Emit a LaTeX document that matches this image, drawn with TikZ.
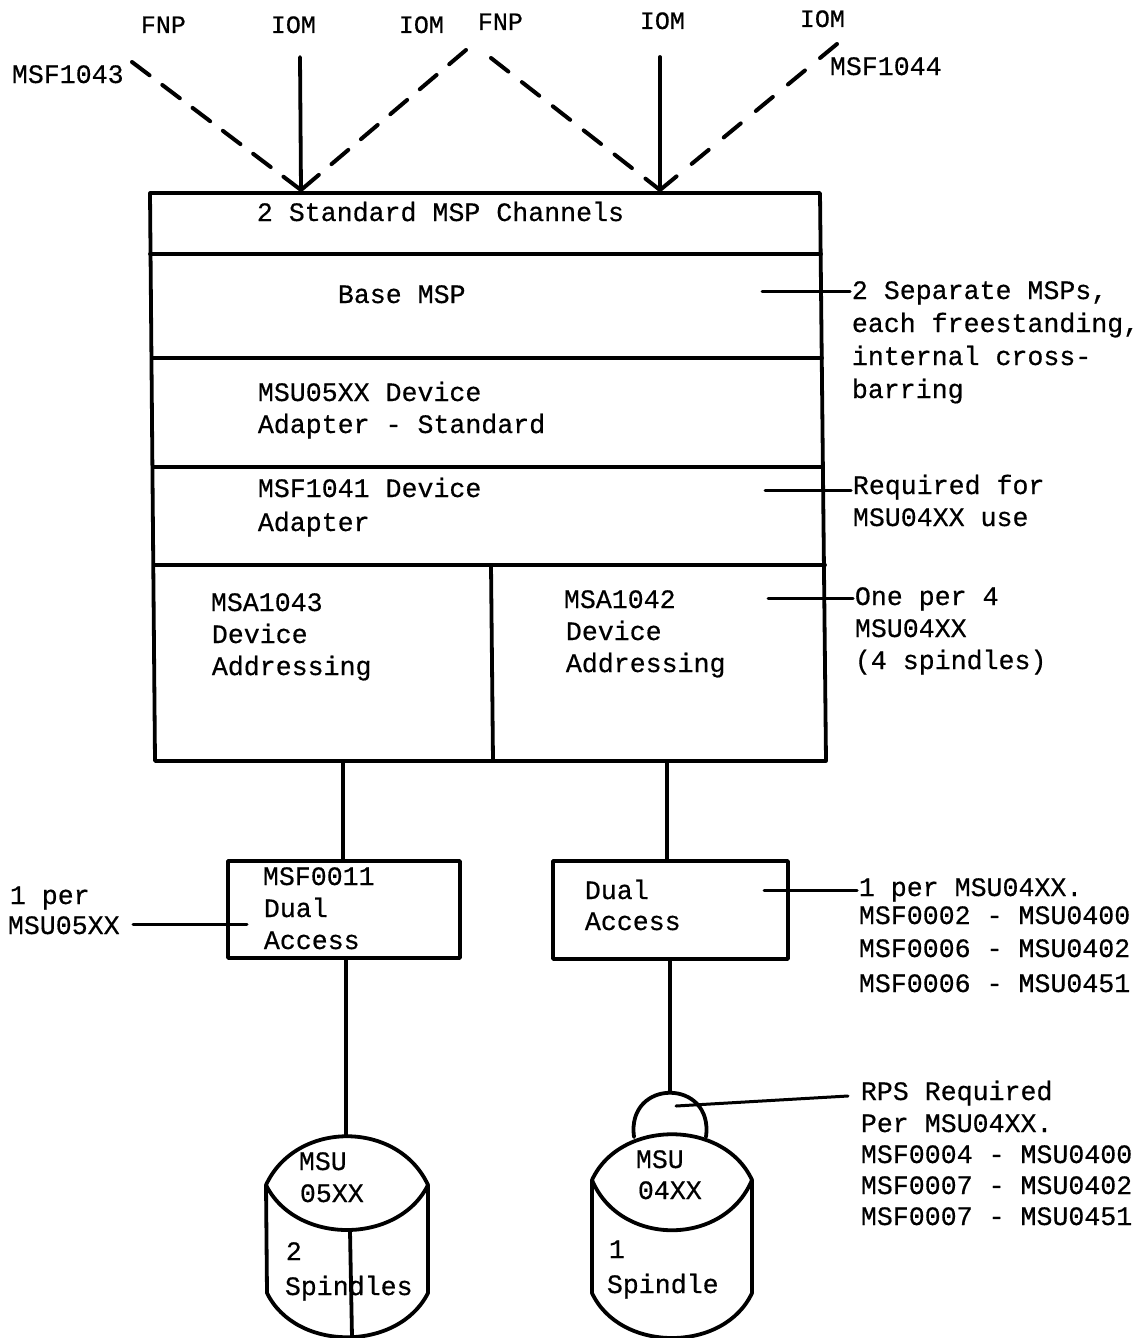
\documentclass[tikz,border=0pt]{standalone}
\usepackage{fontspec}
\setmonofont[FakeBold=0.5]{Liberation Mono}
\usetikzlibrary{positioning}

\begin{document}
\begin{tikzpicture}[x=1pt,y=-1pt,
    line width=3.8pt,
    line cap=round,
    line join=round,
    leader/.style={line width=3pt},
    feed/.style={line width=4pt,dash pattern=on 22pt off #1pt},
    unit/.style={draw,rectangle,inner sep=0pt},
    txt/.style={anchor=base west,inner sep=0pt,xshift=-2pt,yshift=2pt,
        font=\fontsize{26.6}{32}\selectfont\ttfamily},
    top/.style={txt,font=\fontsize{25}{32}\selectfont\ttfamily}]
    \useasboundingbox (0,0) rectangle (1145,1338);

    % incoming channels
    \node[top] (fnpa) at (141,35) {FNP};
    \node[top] (ioma) at (271,35) {IOM};
    \node[top] (iomb) at (399,35) {IOM};
    \node[top] (fnpb) at (478,32) {FNP};
    \node[top] (iomc) at (640,31) {IOM};
    \node[top] (iomd) at (800,29) {IOM};
    \node[txt] (msf1043) at (12,85) {MSF1043};
    \node[txt] (msf1044) at (830,77) {MSF1044};

    \coordinate (apexa) at (301,190);
    \coordinate (apexb) at (660,190);
    \coordinate (fa) at (132,62);
    \coordinate (fb) at (466,50);
    \coordinate (fc) at (491,58);
    \coordinate (fd) at (837,44);
    \coordinate (sa) at (300,57);
    \coordinate (sb) at (660,57);
    \draw[feed=16] (fa) -- (apexa);
    \draw[feed=16.6] (fb) -- (apexa);
    \draw[feed=17.2] (fc) -- (apexb);
    \draw[feed=19.6] (fd) -- (apexb);
    \draw (sa) -- (apexa);
    \draw (sb) -- (apexb);

    % main frame
    \coordinate (tl) at (150,193);
    \coordinate (tr) at (820,193);
    \coordinate (bl) at (155,761);
    \coordinate (br) at (826,761);
    \coordinate (la) at (150,254);
    \coordinate (ra) at (821,254);
    \coordinate (lb) at (152,358);
    \coordinate (rb) at (822,358);
    \coordinate (lc) at (153,467);
    \coordinate (rc) at (823,467);
    \coordinate (ld) at (154,565);
    \coordinate (rd) at (825,565);
    \coordinate (midt) at (491,565);
    \coordinate (midb) at (493,761);
    \draw (tl) -- (tr) -- (br) -- (bl) -- cycle;
    \draw (la) -- (ra);
    \draw (lb) -- (rb);
    \draw (lc) -- (rc);
    \draw (ld) -- (rd);
    \draw (midt) -- (midb);

    \node[txt] (chan) at (257,223) {2 Standard MSP Channels};
    \node[txt] (base) at (338,305) {Base MSP};
    \node[txt] (ada) at (258,403) {MSU05XX Device};
    \node[txt] (adb) at (258,435) {Adapter - Standard};
    \node[txt] (adc) at (258,499) {MSF1041 Device};
    \node[txt] (add) at (258,533) {Adapter};
    \node[txt] (msaa) at (211,613) {MSA1043};
    \node[txt] (msab) at (212,645) {Device};
    \node[txt] (msac) at (212,677) {Addressing};
    \node[txt] (msba) at (564,610) {MSA1042};
    \node[txt] (msbb) at (566,642) {Device};
    \node[txt] (msbc) at (566,674) {Addressing};

    % remarks on the right
    \node[txt] (rema) at (852,301) {2 Separate MSPs,};
    \node[txt] (remb) at (852,334) {each freestanding,};
    \node[txt] (remc) at (852,367) {internal cross-};
    \node[txt] (remd) at (852,400) {barring};
    \node[txt] (reqa) at (853,496) {Required for};
    \node[txt] (reqb) at (853,528) {MSU04XX use};
    \node[txt] (onea) at (855,607) {One per 4};
    \node[txt] (oneb) at (855,639) {MSU04XX};
    \node[txt] (onec) at (855,671) {(4 spindles)};
    \node[txt] (pera) at (859,898) {1 per MSU04XX.};
    \node[txt] (perb) at (859,926) {MSF0002 - MSU0400};
    \node[txt] (perc) at (859,959) {MSF0006 - MSU0402};
    \node[txt] (perd) at (859,994) {MSF0006 - MSU0451};
    \node[txt] (rpsa) at (861,1102) {RPS Required};
    \node[txt] (rpsb) at (861,1134) {Per MSU04XX.};
    \node[txt] (rpsc) at (861,1165) {MSF0004 - MSU0400};
    \node[txt] (rpsd) at (861,1196) {MSF0007 - MSU0402};
    \node[txt] (rpse) at (861,1227) {MSF0007 - MSU0451};
    \coordinate (lma) at (762,291);
    \coordinate (lmb) at (765,490);
    \coordinate (lmc) at (768,598);
    \coordinate (lmd) at (764,890);
    \coordinate (lme) at (676,1106);
    \coordinate (lmg) at (848,1096);
    \draw[leader] (lma) -- (rema.west |- lma);
    \draw[leader] (lmb) -- (reqa.west |- lmb);
    \draw[leader] (lmc) -- (onea.west |- lmc);
    \draw[leader] (lmd) -- (pera.west |- lmd);
    \draw[leader] (lme) -- (lmg);

    % dual access boxes
    \node[unit,minimum width=232pt,minimum height=97pt] (dualb05) at (344,909.5) {};
    \node[unit,minimum width=235pt,minimum height=98pt] (dualb04) at (670.5,910) {};
    \node[txt] (dua) at (263,887) {MSF0011};
    \node[txt] (dub) at (264,919) {Dual};
    \node[txt] (duc) at (264,951) {Access};
    \node[txt] (dud) at (585,901) {Dual};
    \node[txt] (due) at (585,932) {Access};
    \node[txt] (ppa) at (10,906) {1 per};
    \node[txt] (ppb) at (8,936) {MSU05XX};
    \coordinate (lmf) at (247,924);
    \coordinate (lmh) at (133,924);
    \draw[leader] (lmh) -- (lmf);
    \coordinate (dropa) at (343,762);
    \coordinate (dropb) at (667,762);
    \draw (dropa) -- (dropa |- dualb05.north);
    \draw (dropb) -- (dropb |- dualb04.north);

    % drive with two spindles
    \coordinate (cal) at (266,1185);
    \coordinate (car) at (428,1185);
    \coordinate (cbl) at (267,1293);
    \coordinate (cbr) at (428,1293);
    \coordinate (captop) at (346,1136);
    \coordinate (capbot) at (350,1231);
    \coordinate (cyllow) at (352,1337);
    \draw (cal) .. controls (296,1120) and (398,1120) .. (car);
    \draw (cal) .. controls (296,1245) and (398,1245) .. (car);
    \draw (cal) -- (cbl) .. controls (296,1352) and (398,1352) .. (cbr) -- (car);
    \draw (capbot) -- (cyllow);
    \draw (dualb05.south -| captop) -- (captop);
    \node[txt] (msua) at (299,1172) {MSU};
    \node[txt] (msub) at (300,1204) {05XX};
    \node[txt] (spa) at (286,1262) {2};
    \node[txt] (spb) at (285,1297) {Spindles};

    % drive with one spindle
    \coordinate (dal) at (592,1180);
    \coordinate (dar) at (752,1180);
    \coordinate (dbl) at (592,1293);
    \coordinate (dbr) at (752,1293);
    \coordinate (domel) at (634,1137);
    \coordinate (domer) at (706,1137);
    \coordinate (dometop) at (670,1092);
    \draw (dal) .. controls (620,1119) and (724,1119) .. (dar);
    \draw (dal) .. controls (620,1247) and (724,1247) .. (dar);
    \draw (dal) -- (dbl) .. controls (620,1353) and (724,1353) .. (dbr) -- (dar);
    \draw (domel) .. controls (626,1078) and (714,1078) .. (domer);
    \draw (dualb04.south -| dometop) -- (dometop);
    \node[txt] (msuc) at (636,1170) {MSU};
    \node[txt] (msud) at (638,1201) {04XX};
    \node[txt] (spc) at (609,1260) {1};
    \node[txt] (spd) at (607,1295) {Spindle};
\end{tikzpicture}
\end{document}
